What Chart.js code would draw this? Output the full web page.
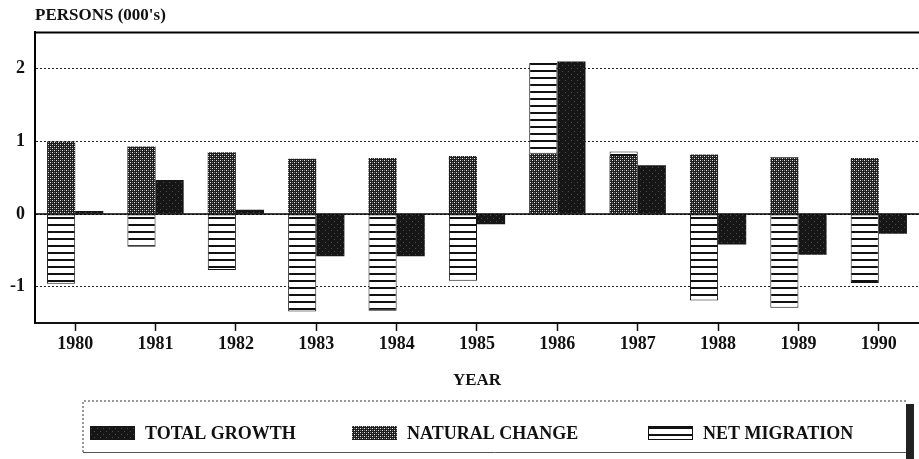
<!DOCTYPE html>
<html>
<head>
<meta charset="utf-8">
<script src="https://cdn.jsdelivr.net/npm/chart.js@4/dist/chart.umd.min.js"></script>
<style>
  html, body { margin: 0; padding: 0; background: #fff; }
  #wrap { width: 919px; height: 459px; position: relative; }
</style>
</head>
<body>
<div id="wrap"><canvas id="growth-chart" width="919" height="459"></canvas></div>
<script>
var years = ["1980", "1981", "1982", "1983", "1984", "1985", "1986", "1987", "1988", "1989", "1990"];
var naturalChange = [1.00, 0.93, 0.85, 0.76, 0.77, 0.80, 0.83, 0.80, 0.82, 0.78, 0.77];
var netMigration = [-0.96, -0.45, -0.77, -1.34, -1.33, -0.92, 1.25, 0.06, -1.19, -1.29, -0.95];
var totalGrowth = [0.04, 0.47, 0.06, -0.58, -0.58, -0.14, 2.10, 0.67, -0.42, -0.56, -0.27];
var yTicks = [-1, 0, 1, 2];

var serif = "'Liberation Serif', 'DejaVu Serif', serif";

function makePattern(w, h, draw){
  var c = document.createElement("canvas");
  c.width = w; c.height = h;
  var ctx = c.getContext("2d");
  draw(ctx);
  return ctx.createPattern(c, "repeat");
}

// dark speckled fill for total growth
var solidFill = makePattern(6, 6, function(ctx){
  ctx.fillStyle = "#161616";
  ctx.fillRect(0, 0, 6, 6);
  ctx.fillStyle = "#4a4a4a";
  ctx.fillRect(1, 2, 1, 1);
  ctx.fillRect(4, 5, 1, 1);
});
// cross-hatch for natural change
var hatchFill = makePattern(4, 4, function(ctx){
  ctx.fillStyle = "#1e1e1e";
  ctx.fillRect(0, 0, 4, 4);
  ctx.fillStyle = "#e6e6e6";
  ctx.fillRect(0, 0, 1, 1);
  ctx.fillRect(2, 2, 1, 1);
  ctx.fillStyle = "#7a7a7a";
  ctx.fillRect(2, 0, 1, 1);
  ctx.fillRect(0, 2, 1, 1);
});
// horizontal lines for net migration
var lineFill = makePattern(8, 7, function(ctx){
  ctx.fillStyle = "#fff";
  ctx.fillRect(0, 0, 8, 7);
  ctx.fillStyle = "#111";
  ctx.fillRect(0, 0, 8, 2);
});

var legendOrder = [2, 0, 1];
var legendX = [90, 352, 648];

var extrasPlugin = {
  id: "extras",
  afterDatasetsDraw: function(chart){
    var ctx = chart.ctx;
    var a = chart.chartArea;
    var y0 = chart.scales.y.getPixelForValue(0);
    ctx.save();
    ctx.strokeStyle = "#000";
    ctx.lineWidth = 1.5;
    ctx.beginPath();
    ctx.moveTo(a.left, y0);
    ctx.lineTo(a.right, y0);
    ctx.stroke();
    ctx.lineWidth = 2;
    ctx.beginPath();
    ctx.moveTo(a.left, a.bottom);
    ctx.lineTo(a.left, a.top);
    ctx.lineTo(a.right, a.top);
    ctx.stroke();
    ctx.restore();
  },
  afterDraw: function(chart){
    var ctx = chart.ctx;
    ctx.save();
    // legend box
    ctx.strokeStyle = "#333";
    ctx.lineWidth = 1;
    ctx.setLineDash([2, 2]);
    ctx.beginPath();
    ctx.moveTo(83, 452);
    ctx.lineTo(83, 401);
    ctx.lineTo(906, 401);
    ctx.stroke();
    ctx.setLineDash([]);
    ctx.strokeStyle = "#555";
    ctx.beginPath();
    ctx.moveTo(83, 452.5);
    ctx.lineTo(906, 452.5);
    ctx.stroke();
    ctx.fillStyle = "#222";
    ctx.fillRect(906, 404, 8, 55);
    // legend items
    ctx.font = "bold 18px " + serif;
    ctx.textBaseline = "middle";
    legendOrder.forEach(function(di, i){
      var ds = chart.data.datasets[di];
      var x = legendX[i];
      ctx.fillStyle = ds.backgroundColor;
      ctx.fillRect(x, 426, 45, 14);
      if (ds.borderWidth){
        ctx.strokeStyle = "#111";
        ctx.lineWidth = 1;
        ctx.strokeRect(x + 0.5, 426.5, 44, 13);
      }
      ctx.fillStyle = "#111";
      ctx.fillText(ds.label, x + 55, 434);
    });
    ctx.restore();
  }
};

var chartConfig = {
  type: "bar",
  data: {
    labels: years,
    datasets: [{
      label: "NATURAL CHANGE",
      data: naturalChange,
      backgroundColor: hatchFill,
      borderWidth: 0,
      stack: "parts"
    }, {
      label: "NET MIGRATION",
      data: netMigration,
      backgroundColor: lineFill,
      borderColor: "#111",
      borderWidth: 1,
      borderSkipped: false,
      stack: "parts"
    }, {
      label: "TOTAL GROWTH",
      data: totalGrowth,
      backgroundColor: solidFill,
      borderWidth: 0,
      stack: "total"
    }]
  },
  options: {
    responsive: false,
    animation: false,
    categoryPercentage: 0.7,
    barPercentage: 1.0,
    layout: { padding: { top: 0, right: 0, bottom: 68, left: 0 } },
    plugins: {
      legend: { display: false },
      tooltip: { enabled: false },
      title: {
        display: true,
        text: "PERSONS (000's)",
        align: "start",
        fullSize: false,
        color: "#111",
        font: { family: serif, size: 17, weight: "bold" },
        padding: { top: 5, bottom: 7 }
      }
    },
    scales: {
      x: {
        stacked: true,
        grid: {
          offset: false,
          drawOnChartArea: false,
          drawTicks: true,
          tickLength: 8,
          tickColor: "#111",
          tickWidth: 1.5
        },
        border: { display: true, color: "#111", width: 2 },
        ticks: {
          color: "#111",
          padding: 3,
          maxRotation: 0,
          font: { family: serif, size: 18, weight: "bold" }
        },
        title: {
          display: true,
          text: "YEAR",
          color: "#111",
          padding: { top: 12, bottom: 0 },
          font: { family: serif, size: 17, weight: "bold" }
        }
      },
      y: {
        stacked: true,
        min: -1.5,
        max: 2.5,
        afterBuildTicks: function(axis){
          axis.ticks = yTicks.map(function(v){ return { value: v }; });
        },
        grid: {
          color: "#222",
          lineWidth: 1,
          drawTicks: false
        },
        border: { display: true, color: "#111", width: 2, dash: [2, 2] },
        ticks: {
          color: "#111",
          padding: 10,
          font: { family: serif, size: 18, weight: "bold" }
        }
      }
    }
  },
  plugins: [extrasPlugin]
};

var growthChart = new Chart(document.getElementById("growth-chart").getContext("2d"), chartConfig);
</script>
</body>
</html>
